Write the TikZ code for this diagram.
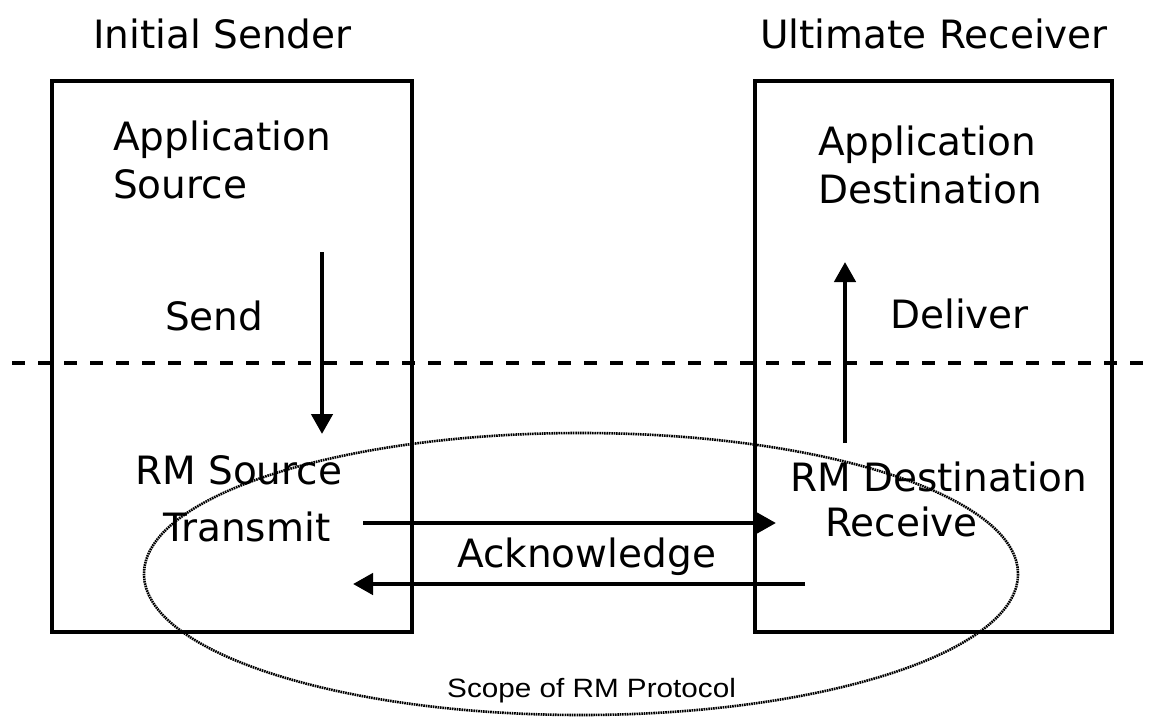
\documentclass[tikz,border=0pt]{standalone}
\usepackage{fontspec}
\setmainfont{DejaVu Sans}
\newfontfamily\arialfont{Liberation Sans}
\usepackage{graphicx}
\usetikzlibrary{arrows.meta}
\tikzset{
  lbl/.style={inner sep=0pt, anchor=base west, font=\fontsize{39}{47}\selectfont},
  boxline/.style={line width=4pt, draw=black},
  flow/.style={line width=4.5pt, -{Triangle[length=20pt,width=21pt]}},
}
\begin{document}
\begin{tikzpicture}[x=1pt,y=-1pt]
\useasboundingbox (0,0) rectangle (1151,723);
% boxes
\draw[boxline] (52,81) rectangle (412,632);
\draw[boxline] (755,81) rectangle (1112,632);
% dashed line
\coordinate (dl) at (12,363);
\coordinate (dr) at (1151,363);
\draw[line width=4.5pt, dash pattern=on 13pt off 13pt] (dl) -- (dr);
% scope ellipse
\draw[line width=2.6pt, dash pattern=on 1.6pt off 0.8pt, draw=black] (581,574) ellipse [x radius=437, y radius=141];
% titles
\node[lbl] (is) at (93,48) {Initial Sender};
\node[lbl] (ur) at (760,48) {Ultimate Receiver};
% left texts
\node[lbl] (app1) at (113,150) {Application};
\node[lbl] (src) at (113,198) {Source};
\node[lbl] (send) at (165,330) {Send};
\node[lbl] (rms) at (135,484) {RM Source};
\node[lbl] (tx) at (163,541) {Transmit};
% right texts
\node[lbl] (app2) at (818,155) {Application};
\node[lbl] (dst) at (818,203) {Destination};
\node[lbl] (dlv) at (890,328) {Deliver};
\node[lbl] (rmd) at (790,491) {RM Destination};
\node[lbl] (rcv) at (825,536) {Receive};
% ack
\node[lbl] (ack) at (457,567) {Acknowledge};
% scope label
\node[inner sep=0pt, anchor=base west, font=\arialfont\fontsize{26.5}{30}\selectfont] (scope) at (447,697) {\scalebox{1.12}[1]{Scope of RM Protocol}};
% arrows
\coordinate (s1) at (322,252);
\coordinate (s2) at (322,434);
\draw[flow] (s1) -- (s2);
\coordinate (d1) at (845,443);
\coordinate (d2) at (845,262);
\draw[flow] (d1) -- (d2);
\coordinate (t1) at (363,523);
\coordinate (t2) at (776,523);
\draw[flow] (t1) -- (t2);
\coordinate (a1) at (805,584);
\coordinate (a2) at (353,584);
\draw[flow] (a1) -- (a2);
\end{tikzpicture}
\end{document}
